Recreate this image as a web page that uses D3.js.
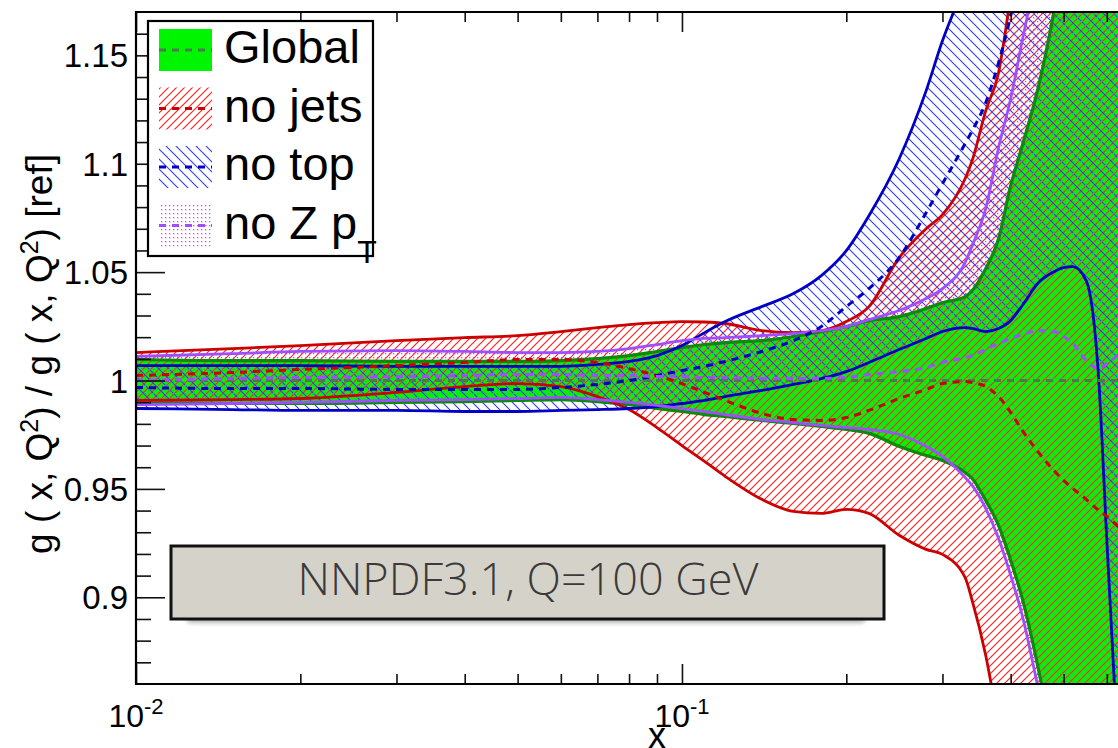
<!DOCTYPE html>
<html>
<head>
<meta charset="utf-8">
<title>NNPDF3.1 gluon ratio</title>
<script src="https://d3js.org/d3.v7.min.js"></script>
<style>
  body { margin: 0; background: #fff; }
  svg { display: block; font-family: "Liberation Sans", Arial, Helvetica, sans-serif; }
</style>
</head>
<body>
<svg id="chart" width="1118" height="748"></svg>
<script>
// x grid shared by every curve
var xs = [0.01, 0.015, 0.02, 0.03, 0.04, 0.05, 0.06, 0.07, 0.08, 0.09,
          0.1, 0.11, 0.12, 0.14, 0.16, 0.18, 0.2, 0.22, 0.25, 0.28,
          0.3, 0.33, 0.34, 0.36, 0.38, 0.4, 0.42, 0.45, 0.48, 0.5,
          0.52, 0.55, 0.58, 0.6, 0.65];

var globalUp  = [1.0097, 1.0092, 1.0092, 1.0088, 1.0088, 1.0088, 1.0092, 1.0101, 1.0115, 1.0134,
                 1.0152, 1.0166, 1.0175, 1.0184, 1.0203, 1.0226, 1.0249, 1.0276, 1.0295, 1.0332,
                 1.0359, 1.0387, 1.0415, 1.0516, 1.0654, 1.0899, 1.1083, 1.1359, 1.1705, 1.20,
                 1.22, 1.25, 1.28, 1.30, 1.35];
var globalLow = [0.9894, 0.9894, 0.9894, 0.9899, 0.9903, 0.9908, 0.9912, 0.9903, 0.9889, 0.9871,
                 0.9857, 0.9843, 0.9834, 0.9816, 0.9802, 0.9788, 0.9774, 0.9756, 0.9696, 0.9654,
                 0.9631, 0.9576, 0.9548, 0.9447, 0.9332, 0.9171, 0.8995, 0.8664, 0.8295, 0.80,
                 0.78, 0.75, 0.72, 0.70, 0.66];
var globalMid = [1, 1, 1, 1, 1, 1, 1, 1, 1, 1,
                 1, 1, 1, 1, 1, 1, 1, 1, 1, 1,
                 1, 1, 1, 1, 1, 1, 1, 1, 1, 1,
                 1, 1, 1, 1, 1];

var noJetsUp  = [1.0129, 1.0147, 1.0161, 1.0184, 1.0198, 1.0207, 1.0226, 1.0244, 1.0258, 1.0267,
                 1.0272, 1.0270, 1.0263, 1.0230, 1.0221, 1.0230, 1.0272, 1.0341, 1.0567, 1.0700,
                 1.0765, 1.0931, 1.1014, 1.1244, 1.1419, 1.1774, 1.2120, 1.2673, 1.32, 1.35,
                 1.38, 1.42, 1.46, 1.48, 1.54];
var noJetsLow = [0.9908, 0.9912, 0.9917, 0.9945, 0.9972, 0.9986, 0.9972, 0.9926, 0.9866, 0.9783,
                 0.9700, 0.9627, 0.9558, 0.9452, 0.9396, 0.9387, 0.9406, 0.9387, 0.9286, 0.9221,
                 0.9198, 0.9092, 0.8986, 0.8733, 0.8410, 0.811, 0.779, 0.733, 0.70, 0.68,
                 0.66, 0.64, 0.62, 0.60, 0.55];
var noJetsMid = [1.0023, 1.0037, 1.0051, 1.0069, 1.0083, 1.0097, 1.0097, 1.0083, 1.0055, 1.0023,
                 0.9986, 0.9945, 0.9908, 0.9848, 0.9820, 0.9816, 0.9829, 0.9862, 0.9917, 0.9959,
                 0.9986, 0.9995, 0.9991, 0.9972, 0.9926, 0.9853, 0.9770, 0.9668, 0.9585, 0.9539,
                 0.9502, 0.9452, 0.9401, 0.9373, 0.9295];

var noTopUp   = [1.0069, 1.0069, 1.0069, 1.0065, 1.0065, 1.0065, 1.0065, 1.0074, 1.0088, 1.0115,
                 1.0161, 1.0221, 1.0272, 1.0341, 1.0401, 1.0484, 1.0599, 1.0760, 1.1023, 1.1336,
                 1.1567, 1.1820, 1.1889, 1.21, 1.24, 1.27, 1.30, 1.34, 1.38, 1.41,
                 1.44, 1.48, 1.52, 1.55, 1.60];
var noTopLow  = [0.9871, 0.9866, 0.9862, 0.9862, 0.9857, 0.9857, 0.9862, 0.9866, 0.9871, 0.9880,
                 0.9894, 0.9908, 0.9926, 0.9954, 0.9982, 1.0009, 1.0041, 1.0083, 1.0143, 1.0194,
                 1.0226, 1.0244, 1.0240, 1.0226, 1.0240, 1.0276, 1.0346, 1.0452, 1.0502, 1.0521,
                 1.0525, 1.0461, 1.0000, 0.9263, 0.7604];
var noTopMid  = [0.9968, 0.9963, 0.9963, 0.9959, 0.9959, 0.9959, 0.9968, 0.9982, 1.0000, 1.0023,
                 1.0046, 1.0065, 1.0088, 1.0134, 1.0184, 1.0249, 1.0341, 1.0424, 1.0567, 1.0774,
                 1.0908, 1.1092, 1.1152, 1.1281, 1.1465, 1.1682, 1.1935, 1.23, 1.26, 1.28,
                 1.30, 1.33, 1.36, 1.38, 1.42];

var noZptUp   = [1.0111, 1.0124, 1.0134, 1.0138, 1.0134, 1.0129, 1.0129, 1.0134, 1.0147, 1.0166,
                 1.0184, 1.0194, 1.0198, 1.0207, 1.0217, 1.0230, 1.0249, 1.0281, 1.0323, 1.0378,
                 1.0424, 1.0544, 1.0622, 1.0793, 1.1074, 1.1300, 1.1567, 1.1935, 1.23, 1.25,
                 1.27, 1.30, 1.33, 1.35, 1.40];
var noZptLow  = [0.9889, 0.9894, 0.9899, 0.9908, 0.9912, 0.9917, 0.9922, 0.9912, 0.9899, 0.9885,
                 0.9871, 0.9857, 0.9843, 0.9820, 0.9806, 0.9793, 0.9783, 0.9774, 0.9751, 0.9696,
                 0.9650, 0.9553, 0.9516, 0.9410, 0.9272, 0.9101, 0.8917, 0.8571, 0.8249, 0.80,
                 0.78, 0.75, 0.72, 0.70, 0.66];
var noZptMid  = [1.0000, 1.0009, 1.0014, 1.0018, 1.0023, 1.0028, 1.0028, 1.0023, 1.0023, 1.0018,
                 1.0018, 1.0014, 1.0014, 1.0009, 1.0009, 1.0009, 1.0014, 1.0028, 1.0041, 1.0060,
                 1.0083, 1.0106, 1.0115, 1.0143, 1.0171, 1.0194, 1.0212, 1.0230, 1.0226, 1.0203,
                 1.0171, 1.0092, 1.0055, 1.0078, 1.0147];

var yMajor = [0.9, 0.95, 1, 1.05, 1.1, 1.15];
var yMajorLabels = ["0.9", "0.95", "1", "1.05", "1.1", "1.15"];
var yMinor = [0.87, 0.88, 0.89, 0.91, 0.92, 0.93, 0.94, 0.96, 0.97, 0.98, 0.99,
              1.01, 1.02, 1.03, 1.04, 1.06, 1.07, 1.08, 1.09, 1.11, 1.12, 1.13, 1.14, 1.16];
var xMajor = [0.01, 0.1];
var xMajorExp = ["-2", "-1"];
var xMinor = [0.02, 0.03, 0.04, 0.05, 0.06, 0.07, 0.08, 0.09, 0.2, 0.3, 0.4, 0.5, 0.6];
var legendNames = ["Global", "no jets", "no top", "no Z p"];

var svg = d3.select("#chart");
var L = 136, R = 1118, T = 12, B = 684;
var x = d3.scaleLog().domain([0.01, 0.629]).range([L, R]);
var y = d3.scaleLinear().domain([0.86, 1.17]).range([B, T]);

var defs = svg.append("defs");
defs.append("clipPath").attr("id", "plotclip").append("rect")
    .attr("x", L).attr("y", T).attr("width", R - L + 10).attr("height", B - T);

var pr = defs.append("pattern").attr("id", "hatchRed").attr("patternUnits", "userSpaceOnUse")
    .attr("width", 8).attr("height", 8);
pr.append("path").attr("d", "M0,8 L8,0 M-2,2 L2,-2 M6,10 L10,6")
    .attr("stroke", "#ff2424").attr("stroke-width", 1.2);
var pb = defs.append("pattern").attr("id", "hatchBlue").attr("patternUnits", "userSpaceOnUse")
    .attr("width", 10).attr("height", 10);
pb.append("path").attr("d", "M0,0 L10,10 M-2,8 L2,12 M8,-2 L12,2")
    .attr("stroke", "#2f3cff").attr("stroke-width", 1.1);
var pd = defs.append("pattern").attr("id", "dots").attr("patternUnits", "userSpaceOnUse")
    .attr("width", 4).attr("height", 4);
pd.append("rect").attr("x", 1).attr("y", 1).attr("width", 1.3).attr("height", 1.3).attr("fill", "#e040ff");

var shadow = defs.append("filter").attr("id", "blur").attr("x", "-10%").attr("y", "-50%")
    .attr("width", "120%").attr("height", "200%");
shadow.append("feGaussianBlur").attr("stdDeviation", 2);

var sets = [
  {up: globalUp,  low: globalLow, mid: globalMid, fill: "#00f500", line: "#0b8a0b", dash: "#4d7a4d"},
  {up: noJetsUp,  low: noJetsLow, mid: noJetsMid, fill: "url(#hatchRed)",  line: "#cc0000", dash: "#cc0000"},
  {up: noTopUp,   low: noTopLow,  mid: noTopMid,  fill: "url(#hatchBlue)", line: "#0000c4", dash: "#0000c4"},
  {up: noZptUp,   low: noZptLow,  mid: noZptMid,  fill: "url(#dots)",      line: "#a04cff", dash: "#a04cff"}
];
var swatchFill = ["#00f500", "url(#hatchRed)", "url(#hatchBlue)", "url(#dots)"];

var plot = svg.append("g").attr("clip-path", "url(#plotclip)");

sets.forEach(function(s) {
  var area = d3.area().curve(d3.curveMonotoneX)
      .x(function(d, i) { return x(xs[i]); })
      .y0(function(d, i) { return y(s.low[i]); })
      .y1(function(d, i) { return y(s.up[i]); });
  plot.append("path").datum(xs).attr("d", area).attr("fill", s.fill).attr("stroke", "none");
});

sets.forEach(function(s, k) {
  [s.up, s.low].forEach(function(arr) {
    var line = d3.line().curve(d3.curveMonotoneX)
        .x(function(d, i) { return x(xs[i]); })
        .y(function(d) { return y(d); });
    plot.append("path").datum(arr).attr("d", line).attr("fill", "none")
        .attr("stroke", s.line).attr("stroke-width", k == 0 ? 3.2 : 2.8);
  });
});

sets.forEach(function(s) {
  var line = d3.line().curve(d3.curveMonotoneX)
      .x(function(d, i) { return x(xs[i]); })
      .y(function(d) { return y(d); });
  plot.append("path").datum(s.mid).attr("d", line).attr("fill", "none")
      .attr("stroke", s.dash).attr("stroke-width", 3).attr("stroke-dasharray", "7,6");
});

// axes: ticks point into the frame
function tickAxis(axis, tr) {
  var g = svg.append("g").attr("transform", tr).call(axis);
  g.select(".domain").remove();
  g.selectAll("text").remove();
  g.selectAll("line").attr("stroke", "#111").attr("stroke-width", 1.6);
  return g;
}
tickAxis(d3.axisRight(y).tickValues(yMinor).tickSize(15).tickSizeOuter(0), "translate(" + L + ",0)");
tickAxis(d3.axisRight(y).tickValues(yMajor).tickSize(29).tickSizeOuter(0), "translate(" + L + ",0)");
tickAxis(d3.axisTop(x).tickValues(xMinor).tickSize(10).tickSizeOuter(0), "translate(0," + B + ")");
tickAxis(d3.axisTop(x).tickValues(xMajor).tickSize(20).tickSizeOuter(0), "translate(0," + B + ")");
tickAxis(d3.axisBottom(x).tickValues(xMinor).tickSize(10).tickSizeOuter(0), "translate(0," + T + ")");
tickAxis(d3.axisBottom(x).tickValues(xMajor).tickSize(20).tickSizeOuter(0), "translate(0," + T + ")");

svg.append("path").attr("d", "M" + (R + 2) + "," + T + " H" + L + " V" + B + " H" + (R + 2))
    .attr("fill", "none").attr("stroke", "#000").attr("stroke-width", 2.2);

svg.append("g").selectAll("text").data(yMajor).enter().append("text")
    .attr("x", 128).attr("y", function(d) { return y(d) + 12; })
    .attr("text-anchor", "end").attr("font-size", 33).attr("fill", "#000")
    .text(function(d, i) { return yMajorLabels[i]; });

var xl = svg.append("g").selectAll("text").data(xMajor).enter().append("text")
    .attr("x", function(d) { return x(d); }).attr("y", 727)
    .attr("text-anchor", "middle").attr("font-size", 32);
xl.append("tspan").text("10");
xl.append("tspan").attr("dy", -13).attr("font-size", 22).text(function(d, i) { return xMajorExp[i]; });

svg.append("text").attr("x", 657).attr("y", 748).attr("text-anchor", "middle")
    .attr("font-size", 36).text("x");

var yt = svg.append("text").attr("transform", "translate(52,354) rotate(-90)")
    .attr("text-anchor", "middle").attr("font-size", 37);
yt.append("tspan").text("g ( x, Q");
yt.append("tspan").attr("dy", -14).attr("font-size", 25).text("2");
yt.append("tspan").attr("dy", 14).text(") / g ( x, Q");
yt.append("tspan").attr("dy", -14).attr("font-size", 25).text("2");
yt.append("tspan").attr("dy", 14).text(") [ref]");

// legend
var lg = svg.append("g");
lg.append("rect").attr("x", 148).attr("y", 21).attr("width", 225).attr("height", 235)
    .attr("fill", "#fff").attr("stroke", "#000").attr("stroke-width", 2.2);
legendNames.forEach(function(name, i) {
  var top = 29 + i * 58.5;
  lg.append("rect").attr("x", 159).attr("y", top).attr("width", 53).attr("height", 42)
      .attr("fill", swatchFill[i]);
  lg.append("line").attr("x1", 159).attr("x2", 212).attr("y1", top + 21).attr("y2", top + 21)
      .attr("stroke", sets[i].dash).attr("stroke-width", 3).attr("stroke-dasharray", "7,6");
  var t = lg.append("text").attr("x", 224).attr("y", top + 34).attr("font-size", 47).text(name);
  if (i == 3) {
    t.append("tspan").attr("dy", 24).attr("font-size", 32).text("T");
  }
});

// label box
svg.append("rect").attr("x", 186).attr("y", 612).attr("width", 680).attr("height", 11)
    .attr("rx", 5).attr("fill", "#b8b8b8").attr("filter", "url(#blur)");
svg.append("rect").attr("x", 171).attr("y", 546).attr("width", 713).attr("height", 73)
    .attr("fill", "#d5d2ca").attr("stroke", "#111").attr("stroke-width", 3);
svg.append("text").attr("x", 528).attr("y", 595).attr("text-anchor", "middle")
    .attr("font-family", "'Open Sans', 'DejaVu Sans', sans-serif").attr("font-weight", 300)
    .attr("font-size", 45).attr("fill", "#3a3a3a").text("NNPDF3.1, Q=100 GeV");
</script>
</body>
</html>
